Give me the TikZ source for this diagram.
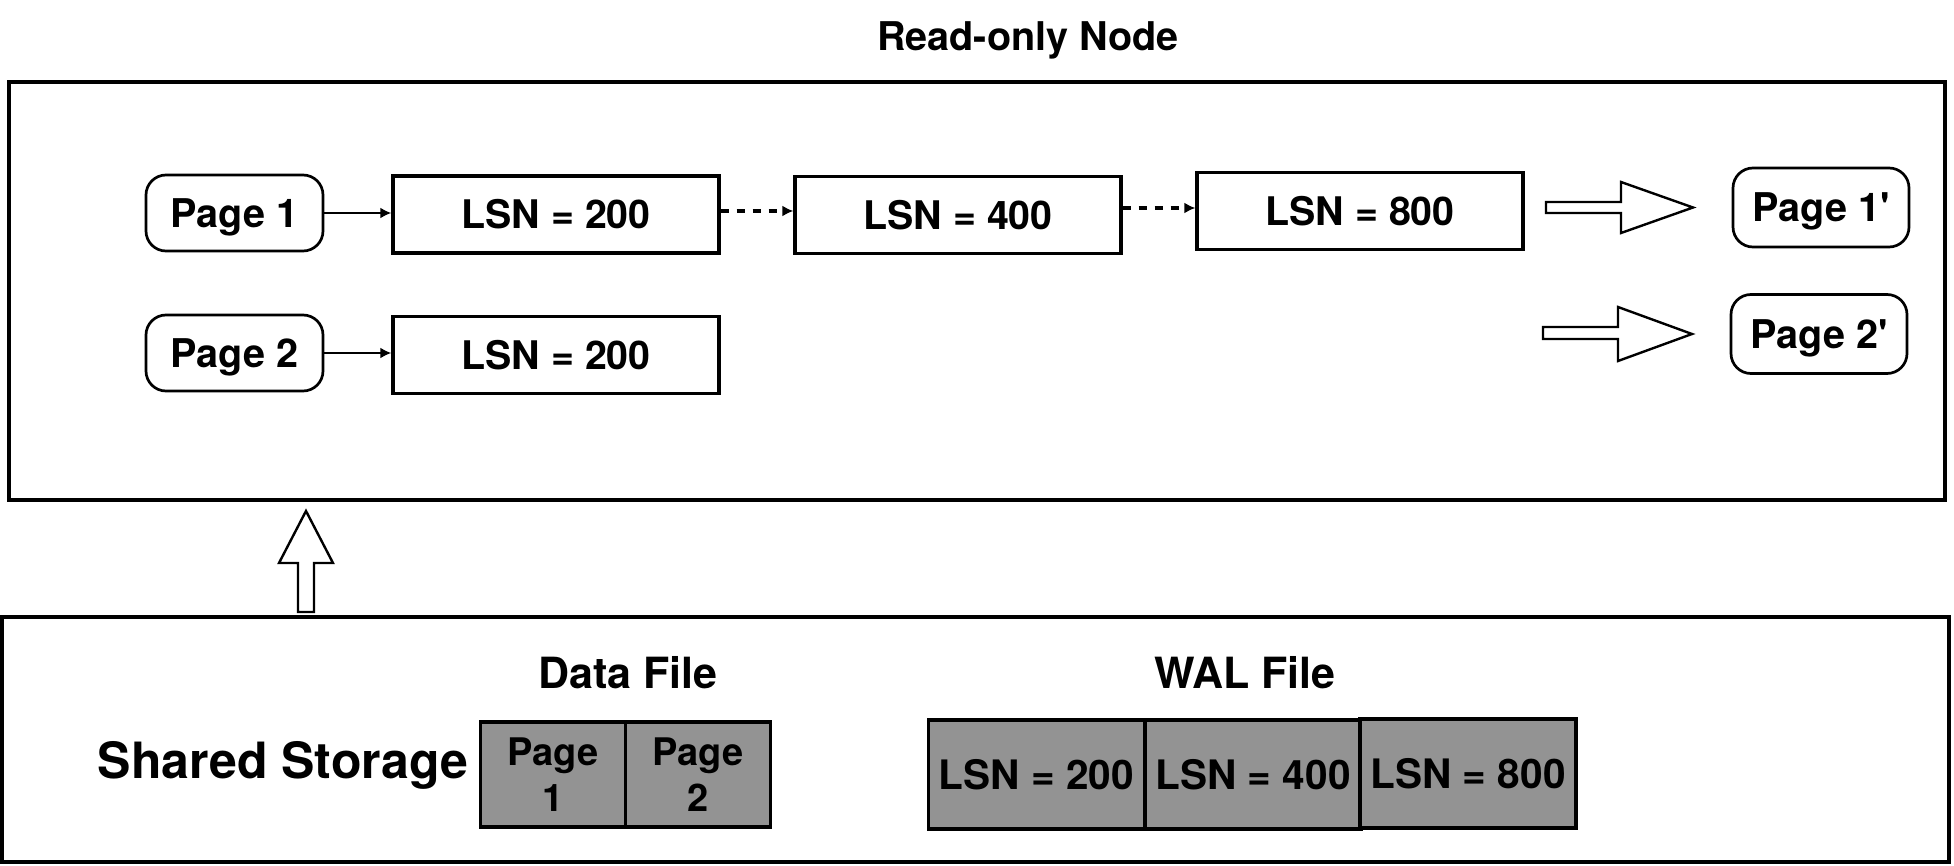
\documentclass[tikz,border=0pt]{standalone}
\usepackage{fontspec}
\setmainfont{TeX Gyre Heros}
\usetikzlibrary{arrows.meta}
\definecolor{filegray}{RGB}{147,147,147}
\begin{document}
\begin{tikzpicture}[x=0.5pt,y=-0.5pt,
  pagebox/.style={draw, line width=1.35pt, rounded corners=10pt, minimum width=88.5pt, minimum height=38pt, inner sep=0pt, text depth=0pt, font=\fontsize{19.8}{23}\selectfont\bfseries},
  lsnbox/.style={draw, line width=1.65pt, minimum width=163pt, minimum height=38.5pt, inner sep=0pt, font=\fontsize{19.7}{23}\selectfont\bfseries},
  databox/.style={draw, line width=1.65pt, fill=filegray, minimum width=72.5pt, minimum height=52.5pt, inner sep=0pt, align=center, font=\fontsize{19}{23}\selectfont\bfseries},
  walbox/.style={draw, line width=1.65pt, fill=filegray, minimum width=108pt, minimum height=54.5pt, inner sep=0pt, font=\fontsize{20.3}{24}\selectfont\bfseries},
  frame/.style={draw, line width=1.65pt},
  label/.style={inner sep=0pt, font=\fontsize{#1}{#1}\selectfont\bfseries},
  solidarrow/.style={line width=1.1pt, -{Latex[length=5.5pt,width=5.5pt]}},
  dotarrow/.style={line width=1.6pt, dash pattern=on 4pt off 4pt, -{Latex[length=5.5pt,width=5.5pt]}},
  blockarrow/.style={draw, line width=1.2pt, fill=white, line join=miter}
]
\useasboundingbox (0,0) rectangle (1954,866);

% frames
\draw[frame] (9,82) rectangle (1945,500);
\draw[frame] (2,617) rectangle (1949,862);

\node[label=19.8] (title) at (1028,40) {Read-only Node};

% top row
\node[pagebox] (p1) at (234.5,213) {Page 1};
\node[lsnbox] (l1) at (556,214.5) {LSN = 200};
\node[lsnbox] (l2) at (958,215) {LSN = 400};
\node[lsnbox] (l3) at (1360,211) {LSN = 800};
\node[pagebox, minimum width=88pt, minimum height=39.5pt] (p1n) at (1821,207.5) {Page 1\textquotesingle};

% second row
\node[pagebox] (p2) at (234.5,353) {Page 2};
\node[lsnbox] (l4) at (556,355) {LSN = 200};
\node[pagebox, minimum width=88pt, minimum height=39.5pt] (p2n) at (1819,334) {Page 2\textquotesingle};

% connectors
\draw[solidarrow] (p1.east) -- (l1.west |- p1.east);
\draw[solidarrow] (p2.east) -- (l4.west |- p2.east);
\coordinate (d1s) at (l1.east |- 0,211);
\coordinate (d1e) at (l2.west |- 0,211);
\draw[dotarrow] (d1s) -- (d1e);
\coordinate (d2s) at (l2.east |- 0,208);
\coordinate (d2e) at (l3.west |- 0,208);
\draw[dotarrow] (d2s) -- (d2e);

% block arrows
\draw[blockarrow] (1546,202) -- (1621,202) -- (1621,182) -- (1693,207.5) -- (1621,233) -- (1621,213) -- (1546,213) -- cycle;
\draw[blockarrow] (1543,327) -- (1618,327) -- (1618,307) -- (1692,334) -- (1618,361) -- (1618,339) -- (1543,339) -- cycle;
\draw[blockarrow] (298,612) -- (298,563) -- (279,563) -- (306,511) -- (333,563) -- (314,563) -- (314,612) -- cycle;

% shared storage
\node[label=25, anchor=base] (ss) at (283,778) {Shared Storage};
\node[label=21.5] (dfl) at (628,673) {Data File};
\node[label=21.5] (wfl) at (1245,673) {WAL File};

\node[databox] (d1) at (553,774.5) {Page\\1};
\node[databox] (d2) at (698,774.5) {Page\\2};

\node[walbox] (w1) at (1036.5,774.5) {LSN = 200};
\node[walbox] (w2) at (1253,774.5) {LSN = 400};
\node[walbox] (w3) at (1468,773.5) {LSN = 800};
\end{tikzpicture}
\end{document}
